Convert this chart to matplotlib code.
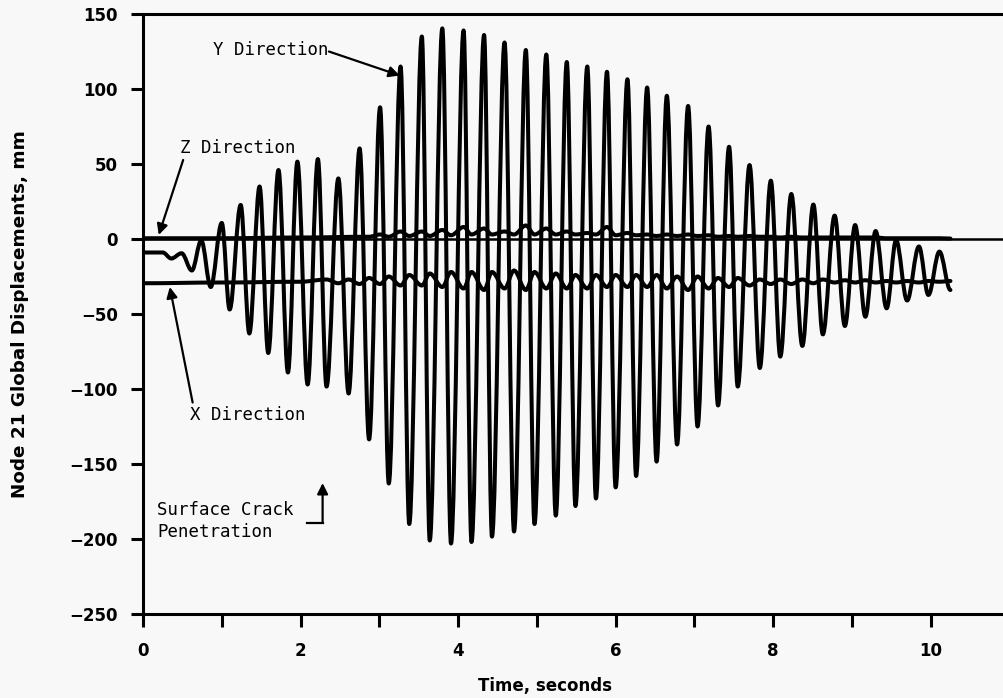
import matplotlib
matplotlib.use('Agg')
import matplotlib.pyplot as plt
from matplotlib.path import Path
from matplotlib.patches import PathPatch

# ---------------- data ----------------
y_time = [0.0, 0.25, 0.36, 0.49, 0.62, 0.74, 0.86,
          1.00, 1.10, 1.24, 1.35, 1.48, 1.59, 1.72, 1.84, 1.96, 2.09,
          2.22, 2.33, 2.48, 2.61, 2.75, 2.87, 3.01, 3.12, 3.27, 3.38,
          3.54, 3.64, 3.80, 3.91, 4.07, 4.17, 4.33, 4.43, 4.59, 4.71,
          4.86, 4.97, 5.12, 5.24, 5.38, 5.49, 5.64, 5.75, 5.89, 6.00,
          6.15, 6.26, 6.40, 6.52, 6.65, 6.78, 6.92, 7.04, 7.18, 7.30,
          7.44, 7.55, 7.70, 7.83, 7.97, 8.09, 8.23, 8.37, 8.51, 8.63,
          8.78, 8.91, 9.04, 9.17, 9.30, 9.44, 9.56, 9.70, 9.85, 9.97,
          10.11, 10.25]
y_disp = [-9, -9, -13, -9.5, -21, -1, -32,
          10.7, -47, 22.7, -63, 35, -76, 46, -89, 51.6, -97,
          53.3, -98.4, 40.4, -103, 60.4, -133.6, 87.8, -163, 115, -190,
          135, -201, 140.4, -203, 139, -202, 136, -198.4, 131, -195,
          126, -190, 123, -184.4, 118, -178, 115, -173, 111.5, -165.6,
          106.5, -158, 101, -148.4, 95.5, -137, 88.7, -125, 75, -111,
          61.5, -98.4, 49.3, -86, 38.9, -78.4, 30, -71.3, 23, -63.6,
          15.6, -58, 9.3, -51.8, 5.3, -46.2, -0.7, -41, -5, -37.3,
          -8.4, -34]

x_time = [0.0, 1.0, 2.0] + y_time[18:]
x_disp = [-29.5, -29, -28.5,
          -27, -29.5, -27, -30, -26, -30, -25, -31, -24, -31,
          -23, -32, -22, -33, -22, -34, -22, -33, -21, -34,
          -22, -33, -23, -33, -24, -33, -24, -32, -24, -32,
          -24, -32, -24, -33, -25, -34, -25, -33, -26, -32,
          -26, -31, -27, -30, -27, -30, -27, -29.5, -27, -29,
          -27.5, -29, -27.5, -29, -28, -29, -28, -29, -28, -28.5,
          -28]

z_time = [0.0, 1.0, 2.0, 2.87] + y_time[23:]
z_disp = [0.5, 0.5, 1.0, 1.5,
          3, 1.5, 5, 2, 5, 2, 6, 2.5, 8, 3,
          7, 3, 5, 3, 9, 3, 7, 3, 5, 3,
          4, 3, 8, 2.5, 4, 2.5, 3, 2, 3, 2,
          3, 2, 2.5, 1.5, 2, 1.5, 2, 1.5, 1.5, 1,
          1.5, 1, 1, 1, 1, 1, 1, 1, 1, 0.5,
          0.5, 0.5, 0.5, 0.5, 0.5, 0.3]

x_ticks_major = [0, 2, 4, 6, 8, 10]
x_ticks_minor = [1, 3, 5, 7, 9]
y_ticks = [-250, -200, -150, -100, -50, 0, 50, 100, 150]
crack_time = 2.28


def smooth_path(ts, vs):
    verts = [(ts[0], vs[0])]
    codes = [Path.MOVETO]
    for i in range(1, len(ts)):
        t0, v0, t1, v1 = ts[i - 1], vs[i - 1], ts[i], vs[i]
        dt = t1 - t0
        verts += [(t0 + 0.36 * dt, v0), (t1 - 0.36 * dt, v1), (t1, v1)]
        codes += [Path.CURVE4] * 3
    return Path(verts, codes)


bg = '#f8f8f8'
fig = plt.figure(figsize=(10.04, 6.98), dpi=100, facecolor=bg)
ax = fig.add_axes([143 / 1004, 1 - 614 / 698, 1 - 143 / 1004, 600 / 698])
ax.set_facecolor(bg)
ax.set_xlim(0, 10.93)
ax.set_ylim(-250, 150)

ax.axhline(0, color='black', lw=1.8, zorder=2)
for ts, vs in [(y_time, y_disp), (x_time, x_disp), (z_time, z_disp)]:
    ax.add_patch(PathPatch(smooth_path(ts, vs), facecolor='none',
                           edgecolor='black', lw=2.9, joinstyle='round',
                           capstyle='round', zorder=3))

for s in ['left', 'bottom', 'top']:
    ax.spines[s].set_linewidth(2.2)
ax.spines['right'].set_visible(False)

ax.set_xticks(x_ticks_major)
ax.set_xticks(x_ticks_minor, minor=True)
ax.set_yticks(y_ticks)
ax.tick_params(axis='both', which='both', direction='out', length=9,
               width=2.2, labelsize=12)
ax.tick_params(axis='x', which='major', pad=11)
ax.tick_params(axis='y', which='major', pad=9)
ax.set_yticklabels(['\u2212' + str(abs(v)) if v < 0 else str(v) for v in y_ticks])
for lab in ax.get_xticklabels() + ax.get_yticklabels():
    lab.set_fontweight('bold')

fig.text(20 / 1004, 1 - 314 / 698, 'Node 21 Global Displacements, mm',
         rotation=90, ha='center', va='center', fontsize=13.2, fontweight='bold')
fig.text(545 / 1004, 1 - 686 / 698, 'Time, seconds', ha='center',
         va='center', fontsize=12, fontweight='bold')

mono = dict(family='DejaVu Sans Mono', fontsize=12.5)
arr = dict(arrowstyle='-|>', lw=1.6, color='black', mutation_scale=16,
           shrinkA=0, shrinkB=0)

ax.text(0.89, 126, 'Y Direction', ha='left', va='center', **mono)
ax.annotate('', xy=(3.26, 109), xytext=(2.36, 125), arrowprops=arr)

ax.text(0.47, 60.7, 'Z Direction', ha='left', va='center', **mono)
ax.annotate('', xy=(0.20, 2.7), xytext=(0.51, 52.7), arrowprops=arr)

ax.text(0.60, -117, 'X Direction', ha='left', va='center', **mono)
ax.annotate('', xy=(0.34, -32), xytext=(0.63, -109), arrowprops=arr)

ax.text(0.18, -188, 'Surface Crack\nPenetration', ha='left', va='center',
        linespacing=1.3, **mono)
ax.plot([crack_time - 0.2, crack_time], [-189.3, -189.3], color='black', lw=1.6)
ax.annotate('', xy=(crack_time, -162.7), xytext=(crack_time, -189.3),
            arrowprops=arr)

fig.savefig('out.png', dpi=100, facecolor=bg)
